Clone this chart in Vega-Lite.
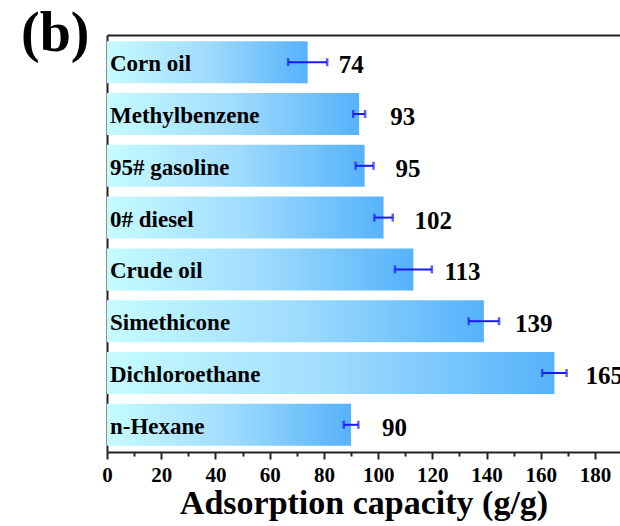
{
  "$schema": "https://vega.github.io/schema/vega-lite/v6.json",
  "autosize": {"type": "none"},
  "padding": {"left": 107, "top": 35, "right": 0, "bottom": 74},
  "width": 513,
  "height": 417,
  "background": "white",
  "title": {
    "text": "(b)",
    "anchor": "start",
    "frame": "group",
    "orient": "top",
    "font": "Liberation Serif",
    "fontSize": 56,
    "fontWeight": "bold",
    "color": "black",
    "dx": -86,
    "offset": -28
  },
  "config": {
    "view": {"stroke": null},
    "font": "Liberation Serif"
  },
  "data": {
    "values": [
      {"solvent": "Corn oil", "capacity": 74, "err": 7.2},
      {"solvent": "Methylbenzene", "capacity": 93, "err": 2.2},
      {"solvent": "95# gasoline", "capacity": 95, "err": 3.3},
      {"solvent": "0# diesel", "capacity": 102, "err": 3.4},
      {"solvent": "Crude oil", "capacity": 113, "err": 6.8},
      {"solvent": "Simethicone", "capacity": 139, "err": 5.6},
      {"solvent": "Dichloroethane", "capacity": 165, "err": 4.5},
      {"solvent": "n-Hexane", "capacity": 90, "err": 2.7}
    ]
  },
  "transform": [
    {"calculate": "datum.capacity - datum.err", "as": "lo"},
    {"calculate": "datum.capacity + datum.err", "as": "hi"}
  ],
  "encoding": {
    "y": {
      "field": "solvent",
      "type": "nominal",
      "sort": null,
      "scale": {"paddingInner": 0.19, "paddingOuter": 0.12},
      "axis": {
        "title": null,
        "labels": false,
        "ticks": false,
        "domainColor": "#222222",
        "domainWidth": 2
      }
    }
  },
  "layer": [
    {
      "mark": {
        "type": "bar",
        "fill": {
          "gradient": "linear",
          "x1": 0, "x2": 1, "y1": 0, "y2": 0,
          "stops": [
            {"offset": 0, "color": "#c6fbff"},
            {"offset": 0.5, "color": "#a0dcfe"},
            {"offset": 1, "color": "#56b2fb"}
          ]
        }
      },
      "encoding": {
        "x": {
          "field": "capacity",
          "type": "quantitative",
          "scale": {"domain": [0, 189.2], "nice": false, "zero": true},
          "axis": {
            "orient": "bottom",
            "title": "Adsorption capacity (g/g)",
            "titleFont": "Liberation Serif",
            "titleFontSize": 34,
            "titleFontWeight": "bold",
            "titleColor": "black",
            "titlePadding": 1,
            "values": [0, 10, 20, 30, 40, 50, 60, 70, 80, 90, 100, 110, 120, 130, 140, 150, 160, 170, 180],
            "labelExpr": "datum.value % 20 === 0 ? datum.label : ''",
            "labelFont": "Liberation Serif",
            "labelFontSize": 21,
            "labelFontWeight": "bold",
            "labelColor": "black",
            "labelPadding": 5,
            "labelFlush": false,
            "labelOverlap": false,
            "tickSize": {"condition": {"test": "datum.value % 20 === 0", "value": 7}, "value": 4},
            "tickColor": "#222222",
            "tickWidth": 2,
            "domainColor": "#222222",
            "domainWidth": 2,
            "grid": false
          }
        }
      }
    },
    {
      "mark": {"type": "rule", "color": "#1a1aff", "strokeWidth": 2},
      "encoding": {
        "x": {"field": "lo", "type": "quantitative", "axis": null},
        "x2": {"field": "hi"}
      }
    },
    {
      "mark": {"type": "tick", "color": "#1a1aff", "thickness": 2.5, "size": 8, "orient": "vertical"},
      "encoding": {
        "x": {"field": "lo", "type": "quantitative", "axis": null}
      }
    },
    {
      "mark": {"type": "tick", "color": "#1a1aff", "thickness": 2.5, "size": 8, "orient": "vertical"},
      "encoding": {
        "x": {"field": "hi", "type": "quantitative", "axis": null}
      }
    },
    {
      "mark": {
        "type": "text",
        "align": "left",
        "baseline": "middle",
        "dx": 31,
        "dy": 3,
        "font": "Liberation Serif",
        "fontSize": 25,
        "fontWeight": "bold",
        "color": "black"
      },
      "encoding": {
        "x": {"field": "capacity", "type": "quantitative", "axis": null},
        "text": {"field": "capacity", "type": "quantitative"}
      }
    },
    {
      "mark": {
        "type": "text",
        "align": "left",
        "baseline": "middle",
        "dx": 3,
        "dy": 2,
        "font": "Liberation Serif",
        "fontSize": 23,
        "fontWeight": "bold",
        "color": "black"
      },
      "encoding": {
        "x": {"datum": 0, "type": "quantitative", "axis": null},
        "text": {"field": "solvent"}
      }
    },
    {
      "mark": {"type": "rule", "opacity": 0},
      "encoding": {
        "x": {
          "field": "capacity",
          "type": "quantitative",
          "axis": {
            "orient": "top",
            "title": null,
            "labels": false,
            "ticks": false,
            "domain": true,
            "domainColor": "#222222",
            "domainWidth": 2,
            "grid": false
          }
        }
      }
    }
  ],
  "resolve": {"axis": {"x": "independent"}}
}
